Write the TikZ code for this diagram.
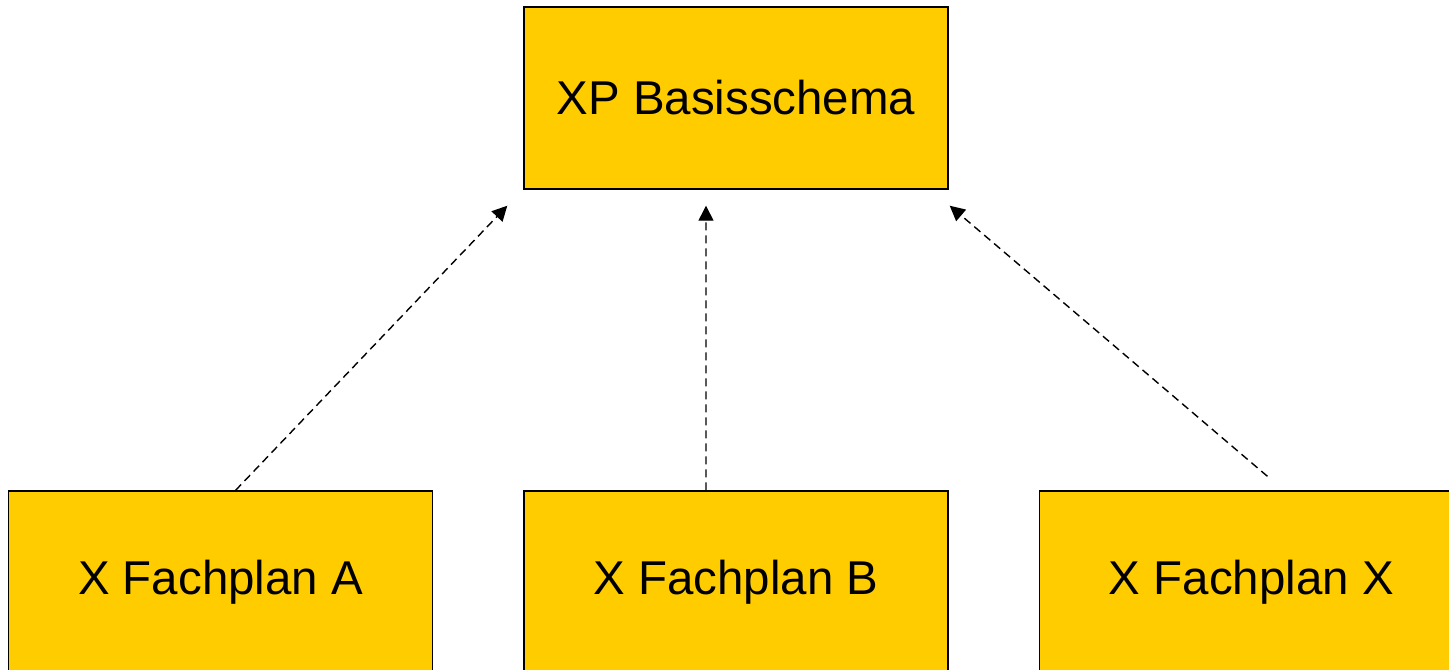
\documentclass[tikz,border=0pt]{standalone}
\usepackage{fontspec}
\setmainfont{Liberation Sans}
\usepackage{tikz}
\usetikzlibrary{arrows.meta,positioning}
\definecolor{planyellow}{RGB}{255,204,0}

\begin{document}
\begin{tikzpicture}[
    planbox/.style={draw=black,line width=0.8pt,fill=planyellow,minimum width=8.48cm,minimum height=3.64cm,inner sep=0pt,font=\fontsize{27}{32}\selectfont},
    dep/.style={dashed,dash pattern=on 0.16cm off 0.1cm,line width=0.8pt,-{Triangle[length=0.3cm,width=0.3cm]}}]
  \useasboundingbox (0,0) rectangle (28.98,-13.38);
  \clip (0,0) rectangle (28.98,-13.38);
  \node[planbox] (basis) at (14.72,-1.96) {XP Basisschema};
  \node[planbox] (fb) at (14.72,-11.64) {X Fachplan B};
  \node[planbox,left=1.8cm of fb] (fa) {X Fachplan A};
  \node[planbox,right=1.8cm of fb] (fx) {X Fachplan X};
  % dependencies
  \draw[dep] ([xshift=0.3cm]fa.north) -- ([shift={(-0.32,-0.32)}]basis.south west);
  \draw[dep] ([xshift=-0.6cm]fb.north) -- ([shift={(-0.6,-0.32)}]basis.south);
  \draw[dep] ([shift={(0.32,0.28)}]fx.north) -- ([shift={(0.02,-0.32)}]basis.south east);
\end{tikzpicture}
\end{document}
